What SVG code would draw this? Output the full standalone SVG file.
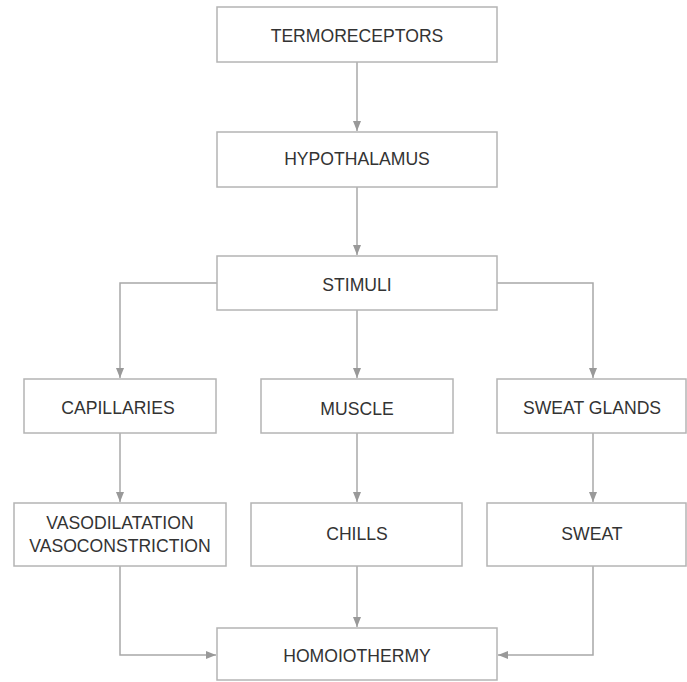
<svg xmlns="http://www.w3.org/2000/svg" width="687" height="682" viewBox="0 0 687 682">
<style>
.box{fill:#fff;stroke:#b4b4b4;stroke-width:1.5}
.lbl{font-family:"Liberation Sans",Arial,sans-serif;font-size:17.6px;fill:#333;text-anchor:middle}
.ln{fill:none;stroke:#a8a8a8;stroke-width:1.5}
</style>
<defs>
<marker id="ah" viewBox="0 0 10 10" refX="10" refY="5" markerWidth="10" markerHeight="10" markerUnits="userSpaceOnUse" orient="auto">
<path d="M0,1 L10,5 L0,9 Z" fill="#999"/>
</marker>
</defs>
<rect width="687" height="682" fill="#fff"/>
<g id="connectors">
<path class="ln" d="M357,62 V131" marker-end="url(#ah)"/>
<path class="ln" d="M357,187 V255" marker-end="url(#ah)"/>
<path class="ln" d="M217,283 H120 V378" marker-end="url(#ah)"/>
<path class="ln" d="M497,283 H593 V378" marker-end="url(#ah)"/>
<path class="ln" d="M357,310 V378" marker-end="url(#ah)"/>
<path class="ln" d="M120,433 V502" marker-end="url(#ah)"/>
<path class="ln" d="M357,433 V502" marker-end="url(#ah)"/>
<path class="ln" d="M593,433 V502" marker-end="url(#ah)"/>
<path class="ln" d="M120,566 V655 H216" marker-end="url(#ah)"/>
<path class="ln" d="M357,566 V627" marker-end="url(#ah)"/>
<path class="ln" d="M593,566 V655 H498" marker-end="url(#ah)"/>
</g>
<g id="termoreceptors">
<rect class="box" x="217" y="7" width="280" height="55"/>
<text class="lbl" x="357" y="42">TERMORECEPTORS</text>
</g>
<g id="hypothalamus">
<rect class="box" x="217" y="132" width="280" height="55"/>
<text class="lbl" x="357" y="165">HYPOTHALAMUS</text>
</g>
<g id="stimuli">
<rect class="box" x="217" y="256" width="280" height="54"/>
<text class="lbl" x="357" y="291">STIMULI</text>
</g>
<g id="capillaries">
<rect class="box" x="24" y="379" width="192" height="54"/>
<text class="lbl" x="118" y="414">CAPILLARIES</text>
</g>
<g id="muscle">
<rect class="box" x="261" y="379" width="192" height="54"/>
<text class="lbl" x="357" y="415">MUSCLE</text>
</g>
<g id="sweat-glands">
<rect class="box" x="497" y="379" width="189" height="54"/>
<text class="lbl" x="592" y="414">SWEAT GLANDS</text>
</g>
<g id="vasodilatation">
<rect class="box" x="14" y="503" width="212" height="63"/>
<text class="lbl" x="120" y="529">VASODILATATION</text>
<text class="lbl" x="120" y="552">VASOCONSTRICTION</text>
</g>
<g id="chills">
<rect class="box" x="251" y="503" width="211" height="63"/>
<text class="lbl" x="357" y="540">CHILLS</text>
</g>
<g id="sweat">
<rect class="box" x="487" y="503" width="199" height="63"/>
<text class="lbl" x="592" y="540">SWEAT</text>
</g>
<g id="homoiothermy">
<rect class="box" x="217" y="628" width="280" height="52"/>
<text class="lbl" x="357" y="662">HOMOIOTHERMY</text>
</g>
</svg>
